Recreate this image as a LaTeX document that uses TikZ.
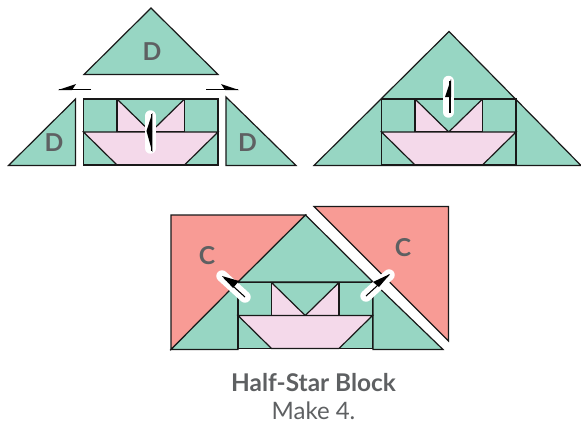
\documentclass[tikz,border=0pt]{standalone}
\usepackage{fontspec}
\setmainfont{Lato}
\definecolor{qgreen}{HTML}{97D6C3}
\definecolor{qpink}{HTML}{F4D9EA}
\definecolor{qred}{HTML}{F89B95}
\definecolor{qtext}{HTML}{5E6062}
\tikzset{
  x=0.75pt,y=-0.75pt,
  patchgreen/.style={fill=qgreen,draw=black!90,line width=0.9pt,line join=miter},
  patchpink/.style={fill=qpink,draw=black!90,line width=0.9pt,line join=miter},
  patchred/.style={fill=qred,draw=black!90,line width=0.9pt,line join=miter},
  letter/.style={text=qtext,font=\fontsize{18.5}{18.5}\selectfont\bfseries,inner sep=0pt},
  pill/.style={draw=white,line width=8.6pt,line cap=round},
  press/.style={draw=black,line width=0.8pt},
  presshead/.style={fill=black,draw=none},
}
% the pieced block, upper-left corner at (#1,#2)
\newcommand{\hsblock}[2]{%
  \begin{scope}[shift={(#1,#2)}]
    \fill[qgreen] (0,0) rectangle (134.5,66);
    \draw[patchpink] (33.5,0) -- (101,0) -- (101,33) -- (33.5,33) -- cycle;
    \draw[patchgreen] (33.5,0) -- (101,0) -- (67.25,33) -- cycle;
    \draw[patchpink] (0,33) -- (134.5,33) -- (101,66) -- (33.5,66) -- cycle;
    \draw[draw=black!90,line width=0.9pt] (0,0) rectangle (134.5,66);
  \end{scope}}
\begin{document}
\begin{tikzpicture}
\useasboundingbox (0,0) rectangle (581,422);
% ---- top left: parts
\draw[patchgreen] (151,8) -- (218,74.5) -- (84,74.5) -- cycle;
\draw[patchgreen] (8.5,165.5) -- (75.5,99) -- (75.5,165.5) -- cycle;
\draw[patchgreen] (226,97) -- (296,165.5) -- (226,165.5) -- cycle;
\hsblock{83.5}{99}
\node[letter] (d1) at (152,52) {D};
\node[letter] (d2) at (54,143) {D};
\node[letter] (d3) at (247.5,143) {D};
% pressing arrows
\draw[press] (91,89.3) -- (59,89.3);
\fill[presshead] (58,90) -- (76,84) -- (72,90) -- cycle;
\draw[press] (206,89.3) -- (238,89.3);
\fill[presshead] (239,90) -- (221,84) -- (225,90) -- cycle;
\draw[pill] (150.5,116) -- (150.5,148);
\draw[press] (151.5,114) -- (151.5,151);
\fill[presshead] (152.3,113) -- (146.5,131) -- (152.3,131) -- cycle;
\fill[presshead] (152.3,152) -- (146.5,131) -- (152.3,131) -- cycle;
% ---- top right: joined
\draw[patchgreen] (449,31.5) -- (581,165.5) -- (314,165.5) -- cycle;
\hsblock{381.5}{99}
\draw[pill] (448.5,81.5) -- (448.5,112);
\draw[press] (450,81) -- (450,113);
\fill[presshead] (451,79) -- (445,97) -- (451,97) -- cycle;
% ---- bottom: with C triangles
\draw[patchred] (171,215) -- (305.5,215) -- (171,349.5) -- cycle;
\draw[patchred] (314,206.5) -- (448.5,206.5) -- (448.5,341) -- cycle;
\draw[patchgreen] (305.5,215) -- (373,282) -- (238,282) -- cycle;
\draw[patchgreen] (171,349.5) -- (238,282) -- (238,349.5) -- cycle;
\draw[patchgreen] (373,282) -- (443,349.5) -- (373,349.5) -- cycle;
\hsblock{238}{282.5}
\node[letter] (c1) at (207,256) {C};
\node[letter] (c2) at (403,248) {C};
\draw[pill] (222,276) -- (245,297);
\draw[press] (224,278) -- (245,297);
\fill[presshead] (222,276) -- (239,281) -- (233,288) -- cycle;
\draw[pill] (366,296) -- (389,275);
\draw[press] (366,296) -- (389,275);
\fill[presshead] (390,274) -- (373,282) -- (379,287) -- cycle;
% ---- caption
\node[text=qtext,font=\fontsize{18.3}{18.3}\selectfont\bfseries,inner sep=0pt] (title) at (313.5,383) {Half-Star Block};
\node[text=qtext,font=\fontsize{18}{18}\selectfont,inner sep=0pt] (sub) at (313.5,411) {Make 4.};
\end{tikzpicture}
\end{document}
